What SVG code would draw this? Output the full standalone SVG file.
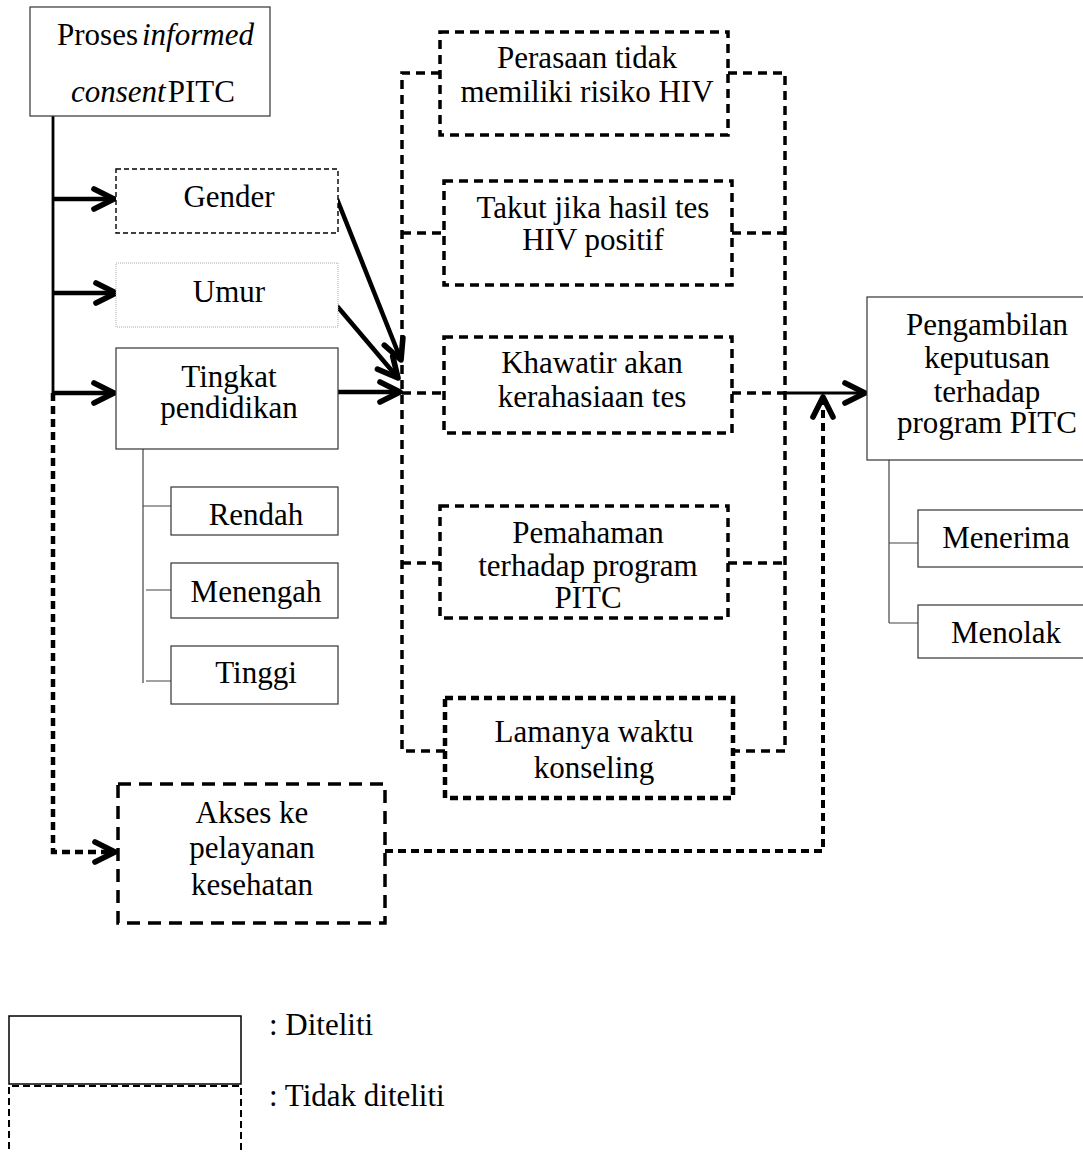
<svg xmlns="http://www.w3.org/2000/svg" width="1083" height="1153" viewBox="0 0 1083 1153">
<style>
text{font-family:"Liberation Serif","Times New Roman",serif;font-size:31px;fill:#000}
.c{text-anchor:middle}
.solid{fill:#fff;stroke:#333;stroke-width:1.2}
.thin{stroke:#444;stroke-width:1.2;fill:none}
.dthin{fill:#fff;stroke:#000;stroke-width:1.4;stroke-dasharray:5 3}
.dot{fill:#fff;stroke:#aaa;stroke-width:1;stroke-dasharray:1 1}
.dbox{fill:#fff;stroke:#000;stroke-width:3.5;stroke-dasharray:9 6}
.dbold{fill:#fff;stroke:#000;stroke-width:4.5;stroke-dasharray:8 5}
.dakses{fill:#fff;stroke:#000;stroke-width:3.5;stroke-dasharray:13 8}
.dline{fill:none;stroke:#000;stroke-width:3.5;stroke-dasharray:9 6}
.sline{fill:none;stroke:#000;stroke-width:4.5}
</style>
<defs>
<marker id="ah" markerUnits="userSpaceOnUse" markerWidth="30" markerHeight="30" viewBox="-20 -12 24 24" refX="0" refY="0" orient="auto">
<path d="M-16,-8 L0,0 L-16,8" fill="none" stroke="#000" stroke-width="4.5" stroke-linecap="round" stroke-linejoin="round"/>
</marker>
</defs>

<g id="connectors">
<line x1="53" y1="116" x2="53" y2="393" stroke="#000" stroke-width="2.8"/>
<path d="M53,393 V852 H115" fill="none" stroke="#000" stroke-width="4.5" stroke-dasharray="8 5" marker-end="url(#ah)"/>
<line class="sline" x1="53" y1="199" x2="114" y2="199" marker-end="url(#ah)"/>
<line class="sline" x1="53" y1="293" x2="116" y2="293" marker-end="url(#ah)"/>
<line class="sline" x1="53" y1="393" x2="114" y2="393" marker-end="url(#ah)"/>
<line class="sline" x1="337" y1="199" x2="401" y2="360" marker-end="url(#ah)"/>
<line class="sline" x1="337" y1="306" x2="398" y2="378" marker-end="url(#ah)"/>
<line class="sline" x1="338" y1="392" x2="400" y2="392" marker-end="url(#ah)"/>
<path class="dline" d="M440,73 H402 V751 H445"/>
<line class="dline" x1="402" y1="233" x2="444" y2="233"/>
<line class="dline" x1="402" y1="393" x2="444" y2="393"/>
<line class="dline" x1="402" y1="563" x2="440" y2="563"/>
<path class="dline" d="M728,73 H785 V751 H733"/>
<line class="dline" x1="732" y1="233" x2="785" y2="233"/>
<line class="dline" x1="732" y1="393" x2="785" y2="393"/>
<line class="dline" x1="728" y1="563" x2="785" y2="563"/>
<line x1="785" y1="393" x2="865" y2="393" stroke="#000" stroke-width="3.2" marker-end="url(#ah)"/>
<path d="M385,851 H823 V397" fill="none" stroke="#000" stroke-width="4" stroke-dasharray="8 5" marker-end="url(#ah)"/>
<path class="thin" d="M143,449 V683 M143,506 H171 M146,590 H171 M146,681 H171"/>
<path class="thin" d="M889,460 V623 M889,543 H918 M889,623 H918"/>
</g>

<g id="proses">
<rect class="solid" x="30" y="7" width="240" height="109"/>
<text x="57" y="45">Proses<tspan font-style="italic" dx="4">informed</tspan></text>
<text x="71" y="102"><tspan font-style="italic">consent</tspan><tspan dx="2">PITC</tspan></text>
</g>
<g id="gender">
<rect class="dthin" x="116" y="169" width="222" height="64"/>
<text class="c" x="229" y="207">Gender</text>
</g>
<g id="umur">
<rect class="dot" x="116" y="263" width="222" height="64"/>
<text class="c" x="229" y="302">Umur</text>
</g>
<g id="tingkat">
<rect class="solid" x="116" y="348" width="222" height="101"/>
<text class="c" x="229" y="387">Tingkat</text>
<text class="c" x="229" y="418">pendidikan</text>
</g>
<g id="rendah">
<rect class="solid" x="171" y="487" width="167" height="48"/>
<text class="c" x="256" y="525">Rendah</text>
</g>
<g id="menengah">
<rect class="solid" x="171" y="563" width="167" height="55"/>
<text class="c" x="256" y="602">Menengah</text>
</g>
<g id="tinggi">
<rect class="solid" x="171" y="646" width="167" height="58"/>
<text class="c" x="256" y="683">Tinggi</text>
</g>
<g id="akses">
<rect class="dakses" x="118" y="784" width="267" height="139"/>
<text class="c" x="252" y="823">Akses ke</text>
<text class="c" x="252" y="858">pelayanan</text>
<text class="c" x="252" y="895">kesehatan</text>
</g>
<g id="perasaan">
<rect class="dbox" x="440" y="32" width="288" height="103"/>
<text class="c" x="587" y="68">Perasaan tidak</text>
<text class="c" x="587" y="102">memiliki risiko HIV</text>
</g>
<g id="takut">
<rect class="dbox" x="444" y="181" width="288" height="104"/>
<text class="c" x="593" y="218">Takut jika hasil tes</text>
<text class="c" x="593" y="250">HIV positif</text>
</g>
<g id="khawatir">
<rect class="dbox" x="444" y="337" width="288" height="96"/>
<text class="c" x="592" y="373">Khawatir akan</text>
<text class="c" x="592" y="407">kerahasiaan tes</text>
</g>
<g id="pemahaman">
<rect class="dbox" x="440" y="506" width="288" height="112"/>
<text class="c" x="588" y="543">Pemahaman</text>
<text class="c" x="588" y="576">terhadap program</text>
<text class="c" x="588" y="608">PITC</text>
</g>
<g id="lamanya">
<rect class="dbold" x="445" y="698" width="288" height="100"/>
<text class="c" x="594" y="742">Lamanya waktu</text>
<text class="c" x="594" y="778">konseling</text>
</g>
<g id="pengambilan">
<rect class="solid" x="867" y="297" width="230" height="163"/>
<text class="c" x="987" y="335">Pengambilan</text>
<text class="c" x="987" y="368">keputusan</text>
<text class="c" x="987" y="402">terhadap</text>
<text class="c" x="987" y="433">program PITC</text>
</g>
<g id="menerima">
<rect class="solid" x="918" y="510" width="180" height="57"/>
<text class="c" x="1006" y="548">Menerima</text>
</g>
<g id="menolak">
<rect class="solid" x="918" y="605" width="180" height="53"/>
<text class="c" x="1006" y="643">Menolak</text>
</g>
<g id="legend">
<rect x="9" y="1016" width="232" height="68" fill="#fff" stroke="#000" stroke-width="1.5"/>
<path d="M9,1160 V1086 H241 V1160" fill="none" stroke="#000" stroke-width="2" stroke-dasharray="7 4"/>
<text x="269" y="1035">: Diteliti</text>
<text x="269" y="1106">: Tidak diteliti</text>
</g>
</svg>
